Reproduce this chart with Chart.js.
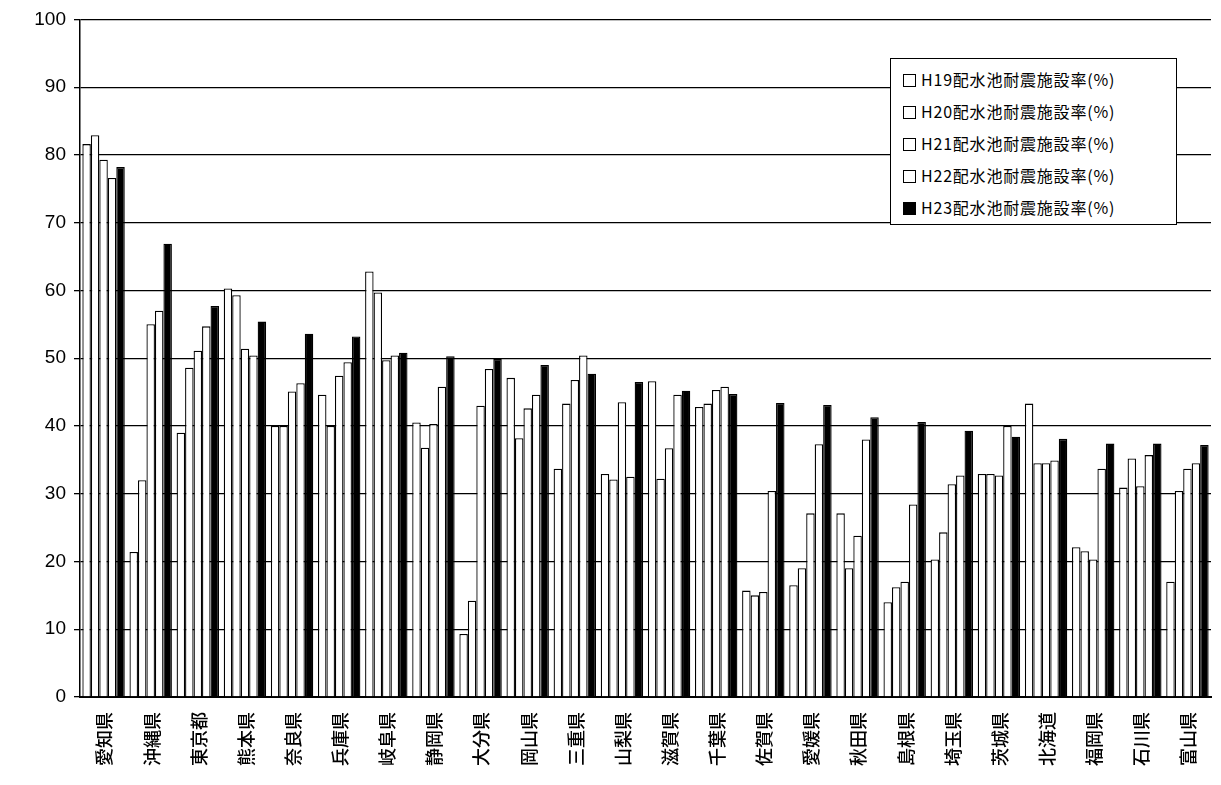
<!DOCTYPE html>
<html><head><meta charset="utf-8">
<script src="https://cdn.jsdelivr.net/npm/chart.js@4/dist/chart.umd.min.js"></script>
<style>
body{margin:0;background:#fff;}
#wrap{position:relative;width:1221px;height:785px;}
#legend{position:absolute;left:890px;top:58px;width:287px;height:167px;border:1px solid #000;background:#fff;box-sizing:border-box;padding:4px 0 0 12px;font-family:"Noto Sans CJK JP";font-size:16px;letter-spacing:0.8px;}
#legend div{height:32px;line-height:32px;white-space:nowrap;}
#legend span{display:inline-block;width:11px;height:11px;border:1px solid #000;margin-right:5px;vertical-align:-1px;}
</style></head>
<body><div id="wrap"><canvas id="chart" width="1221" height="785"></canvas><div id="legend"></div></div>
<script>
const prefectures = ["愛知県","沖縄県","東京都","熊本県","奈良県","兵庫県","岐阜県","静岡県","大分県","岡山県","三重県","山梨県","滋賀県","千葉県","佐賀県","愛媛県","秋田県","島根県","埼玉県","茨城県","北海道","福岡県","石川県","富山県"];
const seriesNames = ["H19配水池耐震施設率(%)","H20配水池耐震施設率(%)","H21配水池耐震施設率(%)","H22配水池耐震施設率(%)","H23配水池耐震施設率(%)"];
const h19 = [81.6,21.4,39.0,60.3,40.0,44.6,62.8,40.5,9.3,47.1,33.7,32.9,46.6,42.8,15.7,16.5,27.1,14.0,20.3,32.9,43.3,22.1,30.9,17.0];
const h20 = [82.9,32.0,48.6,59.3,40.0,40.0,59.7,36.8,14.2,38.2,43.3,32.1,32.2,43.3,15.0,19.0,19.0,16.2,24.3,32.9,34.5,21.5,35.2,30.4];
const h21 = [79.3,55.0,51.1,51.4,45.1,47.4,49.7,40.3,43.0,42.6,46.8,43.5,36.7,45.3,15.5,27.1,23.8,17.0,31.4,32.7,34.5,20.3,31.1,33.7];
const h22 = [76.6,57.0,54.7,50.4,46.3,49.4,50.4,45.8,48.4,44.6,50.4,32.5,44.6,45.8,30.4,37.3,38.0,28.4,32.7,40.0,34.9,33.7,35.7,34.5];
const h23 = [78.2,66.9,57.7,55.4,53.6,53.2,50.8,50.3,49.9,49.0,47.7,46.5,45.2,44.7,43.4,43.1,41.3,40.6,39.3,38.4,38.1,37.4,37.4,37.2];
const yTicks = [0,10,20,30,40,50,60,70,80,90,100];

const allSeries = [h19,h20,h21,h22,h23];
const fills = ["#fff","#fff","#fff","#fff","#000"];

const legend = document.getElementById("legend");
seriesNames.forEach((n,i) => {
  const d = document.createElement("div");
  d.innerHTML = `<span style="background:${fills[i]}"></span>${n}`;
  legend.appendChild(d);
});

// labels read bottom to top, ending just under the axis
const vertLabels = {
  id: "vertLabels",
  afterDraw(chart) {
    const ctx = chart.ctx, x = chart.scales.x;
    ctx.save();
    ctx.font = "500 18px 'Noto Sans CJK JP'";
    ctx.fillStyle = "#000";
    ctx.textBaseline = "middle";
    ctx.textAlign = "right";
    prefectures.forEach((p,i) => {
      ctx.save();
      ctx.translate(x.getPixelForTick(i) + 1, 712);
      ctx.rotate(-Math.PI/2);
      ctx.fillText(p, 0, 0);
      ctx.restore();
    });
    ctx.restore();
  }
};

new Chart(document.getElementById("chart"), {
  type: "bar",
  data: {
    labels: prefectures,
    datasets: allSeries.map((d,i) => ({
      label: seriesNames[i], data: d,
      backgroundColor: fills[i], borderColor: "#000", borderWidth: 1.3
    }))
  },
  options: {
    responsive: false, animation: false,
    layout: { padding: { top: 16, right: 10, left: 0, bottom: 0 } },
    datasets: { bar: { categoryPercentage: 0.9, barPercentage: 1.0 } },
    plugins: { legend: { display: false }, tooltip: { enabled: false } },
    scales: {
      x: {
        grid: { display: false },
        border: { color: "#000", width: 2 },
        ticks: { display: false },
        afterFit: s => { s.height = 88; }
      },
      y: {
        min: 0, max: 100,
        afterBuildTicks: s => { s.ticks = yTicks.map(v => ({ value: v })); },
        grid: { color: "#000", lineWidth: 1.3, tickLength: 6 },
        border: { color: "#000", width: 1.5 },
        ticks: { color: "#000", font: { family: "Liberation Sans", size: 19 }, padding: 8 },
        afterFit: s => { s.width = 80; }
      }
    }
  },
  plugins: [vertLabels]
});
</script></body></html>
